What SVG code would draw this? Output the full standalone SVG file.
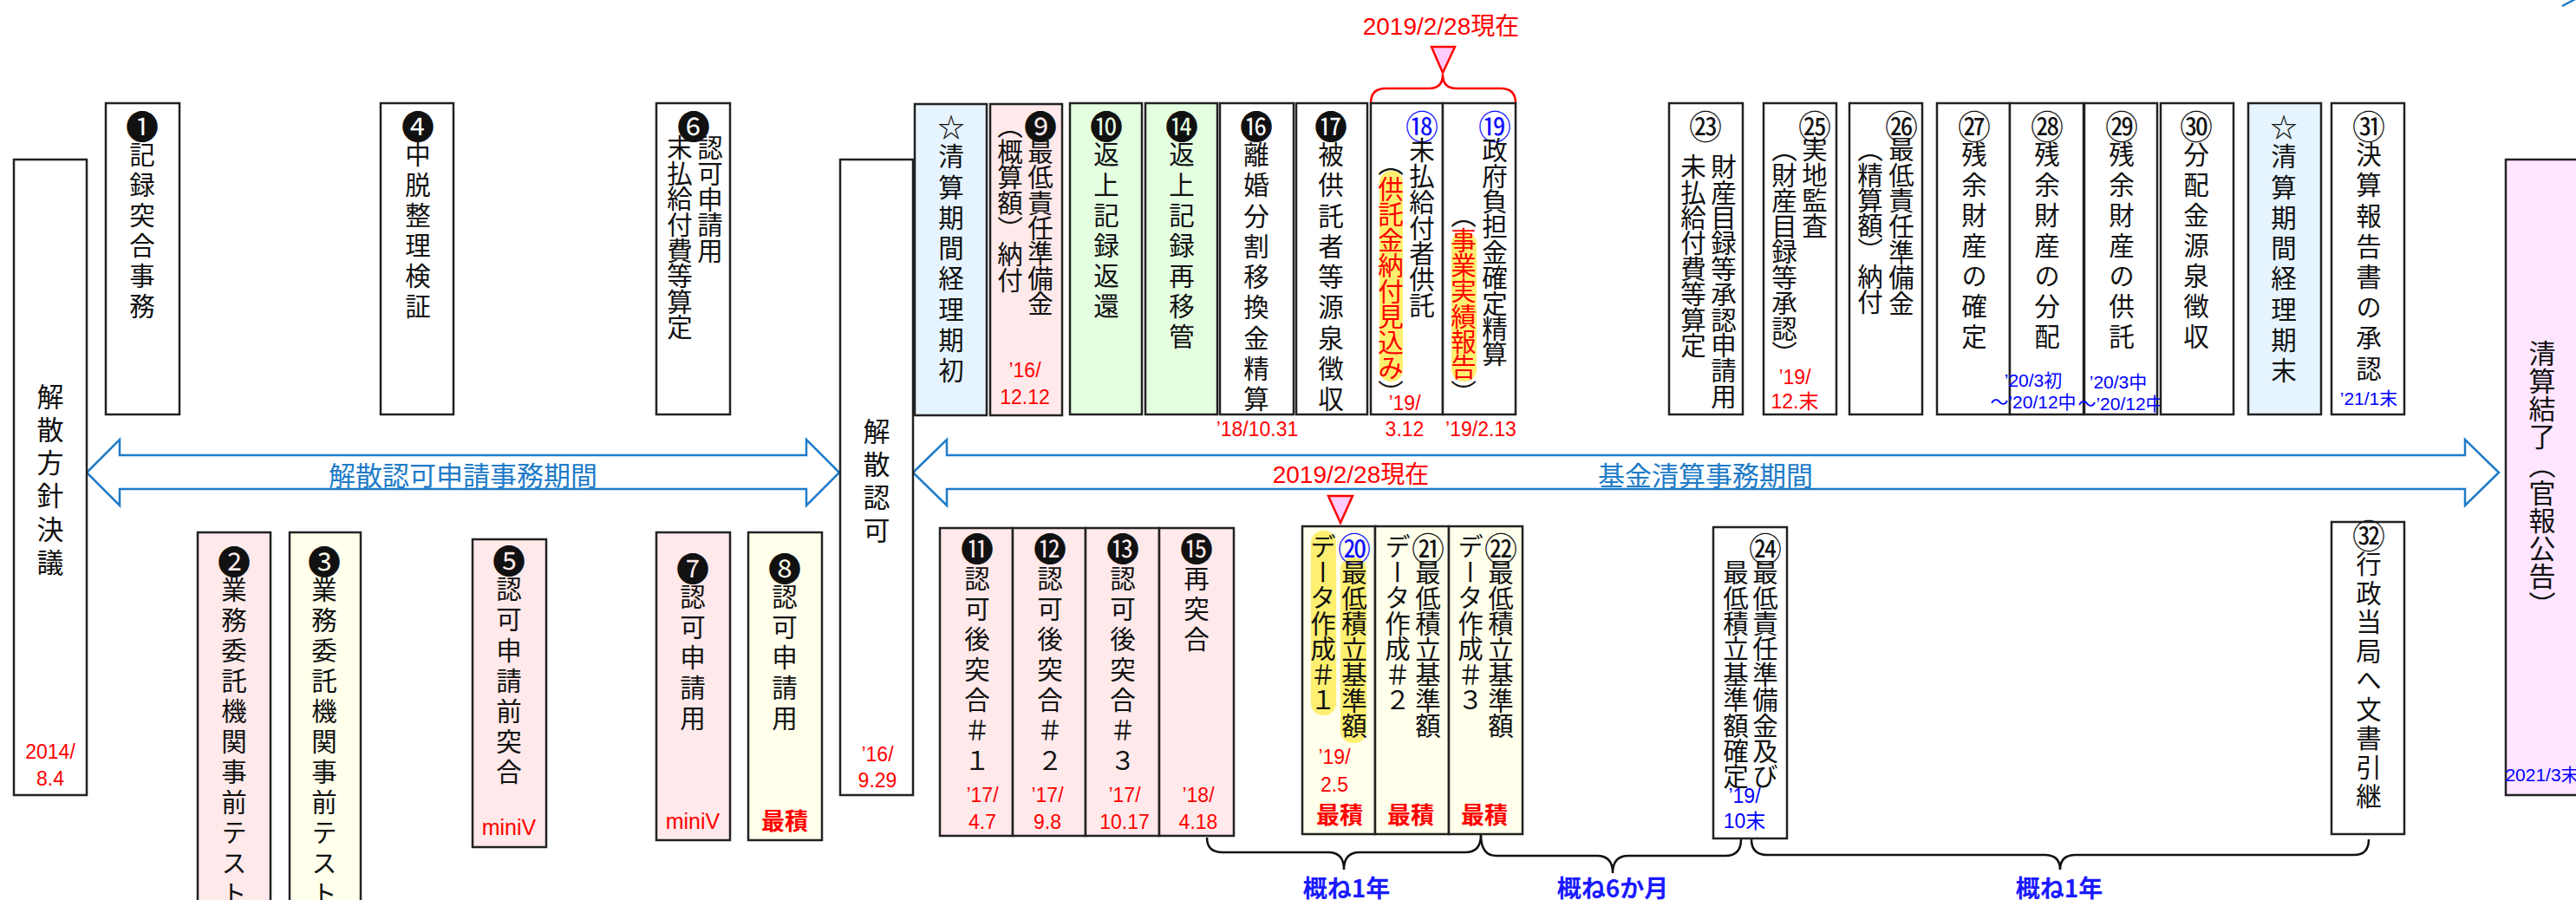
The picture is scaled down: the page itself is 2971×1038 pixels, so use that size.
<svg xmlns="http://www.w3.org/2000/svg" width="2971" height="1038" viewBox="0 0 2971 1038">
<style>
.b{stroke:#222;stroke-width:2.5}
.wh{fill:#fff}.pk{fill:#FFE9EA}.yl{fill:#FFFFEB}.gr{fill:#E3FFE0}.bl{fill:#E6F4FF}.mg{fill:#FFE5FF}
.v{writing-mode:vertical-rl;font-family:"Noto Sans CJK JP",sans-serif;font-size:29.5px;fill:#111}
.vb{writing-mode:vertical-rl;font-family:"Noto Sans CJK JP",sans-serif;font-size:31px;fill:#111}
.n{font-family:"Noto Sans CJK JP",sans-serif;font-size:38px;fill:#111;text-anchor:middle;dominant-baseline:central}
.st{font-family:"Noto Sans CJK JP",sans-serif;font-size:31px;fill:#111;text-anchor:middle;dominant-baseline:central}
.nb{fill:#1010FF}
.d{font-family:"Liberation Sans","Noto Sans CJK JP",sans-serif;font-size:23px;fill:#FF0000;text-anchor:middle}
.db{font-family:"Liberation Sans","Noto Sans CJK JP",sans-serif;font-size:21px;fill:#0000FF;text-anchor:middle}
.mv{font-family:"Liberation Sans",sans-serif;font-size:25px;fill:#FF0000;text-anchor:middle}
.sk{font-family:"Noto Sans CJK JP",sans-serif;font-size:27px;font-weight:bold;fill:#FF0000;text-anchor:middle}
.hl{fill:#FFEF70}
.red{fill:#FF0000}
.arr{fill:#fff;stroke:#1E7BC8;stroke-width:2.5}
.al{font-family:"Noto Sans CJK JP",sans-serif;font-size:31px;fill:#1E7BC8;text-anchor:middle}
.now{font-family:"Liberation Sans","Noto Sans CJK JP",sans-serif;font-size:28px;fill:#FF0000;text-anchor:middle}
.br{fill:none;stroke:#111;stroke-width:2.5}
.gl{font-family:"Noto Sans CJK JP",sans-serif;font-size:28px;font-weight:bold;fill:#1A1AFF;text-anchor:middle}
</style>

<g id="connectors">
  <polygon class="arr" points="100,545 138,507 138,525 930,525 930,507 968,545 930,583 930,564 138,564 138,583"/>
  <text class="al" x="534" y="560">解散認可申請事務期間</text>
  <polygon class="arr" points="1053,545 1092,507 1092,525 2843,525 2843,507 2882,545 2843,583 2843,564 1092,564 1092,583"/>
  <text class="al" x="1967" y="560">基金清算事務期間</text>
  <text class="now" x="1558" y="557">2019/2/28現在</text>
  <polygon points="1532,572 1560,572 1546,603" fill="#FFCCFF" stroke="#FF0000" stroke-width="2.5"/>
  <text class="now" x="1662" y="40">2019/2/28現在</text>
  <polygon points="1651,54 1678,54 1664,84" fill="#FFCCFF" stroke="#FF0000" stroke-width="2.5"/>
  <path d="M1581,119 Q1581,102 1598,102 L1648,102 Q1664,102 1664,86 Q1664,102 1680,102 L1731,102 Q1748,102 1748,119" fill="none" stroke="#FF0000" stroke-width="2.5"/>
  <path class="br" d="M1392,966 Q1392,983 1410,983 L1532,983 Q1550,983 1550,1003 Q1550,983 1568,983 L1690,983 Q1708,983 1708,963"/>
  <path class="br" d="M1708,963 Q1708,987 1726,987 L1842,987 Q1860,987 1860,1007 Q1860,987 1878,987 L1990,987 Q2008,987 2008,968"/>
  <path class="br" d="M2020,968 Q2020,986 2038,986 L2358,986 Q2376,986 2376,1003 Q2376,986 2394,986 L2715,986 Q2732,986 2732,968"/>
  <text class="gl" x="1553" y="1035">概ね1年</text>
  <text class="gl" x="1860" y="1035">概ね6か月</text>
  <text class="gl" x="2375" y="1035">概ね1年</text>
  <line x1="2955" y1="7" x2="2972" y2="-2" stroke="#1E7BC8" stroke-width="2.5"/>
</g>

<g id="start">
  <rect class="b wh" x="16" y="184" width="84" height="733"/>
  <text class="vb" x="58" y="441.5" style="letter-spacing:7.2px">解散方針決議</text>
  <text class="d" x="58" y="875">2014/</text>
  <text class="d" x="58" y="906">8.4</text>
</g>
<g id="n1">
  <rect class="b wh" x="122" y="119" width="85" height="359"/>
  <text class="n" x="164" y="143">❶</text>
  <text class="v" x="164" y="163.25" style="letter-spacing:5.5px">記録突合事務</text>
</g>
<g id="n4">
  <rect class="b wh" x="439" y="119" width="84" height="359"/>
  <text class="n" x="482" y="143">❹</text>
  <text class="v" x="482" y="163.25" style="letter-spacing:5.5px">中脱整理検証</text>
</g>
<g id="n6">
  <rect class="b wh" x="757" y="119" width="85" height="359"/>
  <text class="n" x="800" y="143">❻</text>
  <text class="v" x="819" y="155.25" style="letter-spacing:0.2px">認可申請用</text>
  <text class="v" x="784" y="155.25" style="letter-spacing:0.1px">末払給付費等算定</text>
</g>
<g id="approve">
  <rect class="b wh" x="969" y="184" width="84" height="733"/>
  <text class="vb" x="1011" y="481.5" style="letter-spacing:7px">解散認可</text>
  <text class="d" x="1012" y="878">’16/</text>
  <text class="d" x="1012" y="908">9.29</text>
</g>
<g id="star1">
  <rect class="b bl" x="1055" y="120" width="83" height="359"/>
  <text class="st" x="1097" y="144">☆</text>
  <text class="v" x="1097" y="165.25" style="letter-spacing:5.8px">清算期間経理期初</text>
</g>
<g id="n9">
  <rect class="b pk" x="1142" y="120" width="83" height="359"/>
  <text class="n" x="1200" y="143">❾</text>
  <text class="v" x="1200" y="160.25" style="letter-spacing:-0.3px">最低責任準備金</text>
  <text class="v" x="1165" y="130.25" style="letter-spacing:0.1px">（概算額）納付</text>
  <text class="d" x="1182" y="435">’16/</text>
  <text class="d" x="1182" y="466">12.12</text>
</g>
<g id="n10">
  <rect class="b gr" x="1234" y="119" width="83" height="359"/>
  <text class="n" x="1276" y="143">❿</text>
  <text class="v" x="1276" y="163.25" style="letter-spacing:5.5px">返上記録返還</text>
</g>
<g id="n14">
  <rect class="b gr" x="1321" y="119" width="83" height="359"/>
  <text class="n" x="1363" y="143">⓮</text>
  <text class="v" x="1363" y="163.25" style="letter-spacing:5.5px">返上記録再移管</text>
</g>
<g id="n16">
  <rect class="b wh" x="1407" y="119" width="85" height="359"/>
  <text class="n" x="1449" y="143">⓰</text>
  <text class="v" x="1449" y="163.25" style="letter-spacing:5.75px">離婚分割移換金精算</text>
  <text class="d" x="1450" y="503">’18/10.31</text>
</g>
<g id="n17">
  <rect class="b wh" x="1495" y="119" width="82" height="359"/>
  <text class="n" x="1535" y="143">⓱</text>
  <text class="v" x="1535" y="163.25" style="letter-spacing:5.75px">被供託者等源泉徴収</text>
</g>
<g id="n18">
  <rect class="b wh" x="1581" y="119" width="83" height="359"/>
  <rect class="hl" x="1591" y="197" width="27" height="243" rx="13"/>
  <text class="n nb" x="1640" y="143">⑱</text>
  <text class="v" x="1640" y="158.25" style="letter-spacing:0.3px">未払給付者供託</text>
  <text class="v" x="1604" y="172.75" style="letter-spacing:0px">（<tspan class="red">供託金納付見込み</tspan>）</text>
  <text class="d" x="1620" y="473">’19/</text>
  <text class="d" x="1620" y="503">3.12</text>
</g>
<g id="n19">
  <rect class="b wh" x="1664" y="119" width="84" height="359"/>
  <rect class="hl" x="1674" y="267" width="29" height="173" rx="14"/>
  <text class="n nb" x="1724" y="143">⑲</text>
  <text class="v" x="1724" y="158.25" style="letter-spacing:-0.1px">政府負担金確定精算</text>
  <text class="v" x="1688" y="232.75" style="letter-spacing:-0.2px">（<tspan class="red">事業実績報告</tspan>）</text>
  <text class="d" x="1708" y="503">’19/2.13</text>
</g>
<g id="n23">
  <rect class="b wh" x="1925" y="119" width="85" height="359"/>
  <text class="n" x="1967" y="143">㉓</text>
  <text class="v" x="1988" y="177.25" style="letter-spacing:-0.1px">財産目録等承認申請用</text>
  <text class="v" x="1953" y="177.25" style="letter-spacing:-0.1px">未払給付費等算定</text>
</g>
<g id="n25">
  <rect class="b wh" x="2034" y="119" width="84" height="359"/>
  <text class="n" x="2093" y="143">㉕</text>
  <text class="v" x="2093" y="157.25" style="letter-spacing:-0.2px">実地監査</text>
  <text class="v" x="2058" y="157.25" style="letter-spacing:0px">（財産目録等承認）</text>
  <text class="d" x="2070" y="443">’19/</text>
  <text class="d" x="2070" y="471">12.末</text>
</g>
<g id="n26">
  <rect class="b wh" x="2133" y="119" width="84" height="359"/>
  <text class="n" x="2193" y="143">㉖</text>
  <text class="v" x="2193" y="157.25" style="letter-spacing:0.1px">最低責任準備金</text>
  <text class="v" x="2157" y="157.25" style="letter-spacing:-0.2px">（精算額）納付</text>
</g>
<g id="n27">
  <rect class="b wh" x="2234" y="119" width="84" height="359"/>
  <text class="n" x="2277" y="143">㉗</text>
  <text class="v" x="2277" y="163.25" style="letter-spacing:5.5px">残余財産の確定</text>
</g>
<g id="n28">
  <rect class="b wh" x="2318" y="119" width="85" height="359"/>
  <text class="n" x="2361" y="143">㉘</text>
  <text class="v" x="2361" y="163.25" style="letter-spacing:5.5px">残余財産の分配</text>
  <text class="db" x="2345" y="445.5">’20/3初</text>
  <text class="db" x="2345" y="470.5">～’20/12中</text>
</g>
<g id="n29">
  <rect class="b wh" x="2404" y="119" width="84" height="359"/>
  <text class="n" x="2447" y="143">㉙</text>
  <text class="v" x="2447" y="163.25" style="letter-spacing:5.5px">残余財産の供託</text>
  <text class="db" x="2443" y="447.5">’20/3中</text>
  <text class="db" x="2446" y="472.5">～’20/12中</text>
</g>
<g id="n30">
  <rect class="b wh" x="2492" y="119" width="84" height="359"/>
  <text class="n" x="2533" y="143">㉚</text>
  <text class="v" x="2533" y="163.25" style="letter-spacing:5.5px">分配金源泉徴収</text>
</g>
<g id="star2">
  <rect class="b bl" x="2593" y="119" width="84" height="359"/>
  <text class="st" x="2634" y="144">☆</text>
  <text class="v" x="2634" y="165.25" style="letter-spacing:5.8px">清算期間経理期末</text>
</g>
<g id="n31">
  <rect class="b wh" x="2689" y="119" width="84" height="359"/>
  <text class="n" x="2732" y="143">㉛</text>
  <text class="v" x="2732" y="163.25" style="letter-spacing:5.7px">決算報告書の承認</text>
  <text class="db" x="2732" y="466.5">’21/1末</text>
</g>
<g id="end">
  <rect class="b mg" x="2890" y="184" width="90" height="733"/>
  <text class="vb" x="2932" y="391.5" style="letter-spacing:1.2px">清算結了（官報公告）</text>
  <text class="db" x="2932" y="900.5">2021/3末</text>
</g>

<g id="n2">
  <rect class="b pk" x="228" y="614" width="84" height="440"/>
  <text class="n" x="270" y="645">❷</text>
  <text class="v" x="270" y="665.25" style="letter-spacing:5.5px">業務委託機関事前テスト</text>
</g>
<g id="n3">
  <rect class="b yl" x="334" y="614" width="82" height="440"/>
  <text class="n" x="374" y="645">❸</text>
  <text class="v" x="374" y="665.25" style="letter-spacing:5.5px">業務委託機関事前テスト</text>
</g>
<g id="n5">
  <rect class="b pk" x="545" y="622" width="85" height="355"/>
  <text class="n" x="587" y="644">❺</text>
  <text class="v" x="587" y="664.25" style="letter-spacing:5.7px">認可申請前突合</text>
  <text class="mv" x="587" y="963">miniV</text>
</g>
<g id="n7">
  <rect class="b pk" x="757" y="614" width="85" height="355"/>
  <text class="n" x="799" y="653">❼</text>
  <text class="v" x="799" y="673.25" style="letter-spacing:5.5px">認可申請用</text>
  <text class="mv" x="799" y="956">miniV</text>
</g>
<g id="n8">
  <rect class="b yl" x="863" y="614" width="85" height="355"/>
  <text class="n" x="905" y="653">❽</text>
  <text class="v" x="905" y="673.25" style="letter-spacing:5.5px">認可申請用</text>
  <text class="sk" x="905" y="957">最積</text>
</g>
<g id="n11">
  <rect class="b pk" x="1084" y="609" width="84" height="355"/>
  <text class="n" x="1127" y="630">⓫</text>
  <text class="v" x="1127" y="652.25" style="letter-spacing:5.5px">認可後突合＃１</text>
  <text class="d" x="1133" y="925">’17/</text>
  <text class="d" x="1133" y="956">4.7</text>
</g>
<g id="n12">
  <rect class="b pk" x="1168" y="609" width="84" height="355"/>
  <text class="n" x="1211" y="630">⓬</text>
  <text class="v" x="1211" y="652.25" style="letter-spacing:5.5px">認可後突合＃２</text>
  <text class="d" x="1208" y="925">’17/</text>
  <text class="d" x="1208" y="956">9.8</text>
</g>
<g id="n13">
  <rect class="b pk" x="1252" y="609" width="85" height="355"/>
  <text class="n" x="1295" y="630">⓭</text>
  <text class="v" x="1295" y="652.25" style="letter-spacing:5.5px">認可後突合＃３</text>
  <text class="d" x="1297" y="925">’17/</text>
  <text class="d" x="1297" y="956">10.17</text>
</g>
<g id="n15">
  <rect class="b pk" x="1337" y="609" width="86" height="355"/>
  <text class="n" x="1380" y="630">⓯</text>
  <text class="v" x="1380" y="652.25" style="letter-spacing:5.5px">再突合</text>
  <text class="d" x="1382" y="925">’18/</text>
  <text class="d" x="1382" y="956">4.18</text>
</g>
<g id="n20">
  <rect class="b yl" x="1502" y="607" width="84" height="355"/>
  <rect class="hl" x="1546" y="643" width="30" height="214" rx="14"/>
  <rect class="hl" x="1512" y="612" width="29" height="213" rx="14"/>
  <text class="n nb" x="1562" y="630">⑳</text>
  <text class="v" x="1562" y="645.25">最低積立基準額</text>
  <text class="v" x="1526" y="615.25">データ作成＃１</text>
  <text class="d" x="1539" y="881">’19/</text>
  <text class="d" x="1539" y="913">2.5</text>
  <text class="sk" x="1545" y="950">最積</text>
</g>
<g id="n21">
  <rect class="b yl" x="1586" y="607" width="85" height="355"/>
  <text class="n" x="1647" y="630">㉑</text>
  <text class="v" x="1647" y="645.25">最低積立基準額</text>
  <text class="v" x="1612" y="615.25">データ作成＃２</text>
  <text class="sk" x="1627" y="950">最積</text>
</g>
<g id="n22">
  <rect class="b yl" x="1671" y="607" width="85" height="355"/>
  <text class="n" x="1731" y="630">㉒</text>
  <text class="v" x="1731" y="645.25">最低積立基準額</text>
  <text class="v" x="1696" y="615.25">データ作成＃３</text>
  <text class="sk" x="1712" y="950">最積</text>
</g>
<g id="n24">
  <rect class="b wh" x="1976" y="608" width="85" height="359"/>
  <text class="n" x="2036" y="630">㉔</text>
  <text class="v" x="2036" y="645.25" style="letter-spacing:-0.1px">最低責任準備金及び</text>
  <text class="v" x="2002" y="645.25" style="letter-spacing:-0.1px">最低積立基準額確定</text>
  <text class="db" x="2012" y="926" style="font-size:23px">’19/</text>
  <text class="db" x="2012" y="955" style="font-size:23px">10末</text>
</g>
<g id="n32">
  <rect class="b wh" x="2689" y="602" width="84" height="360"/>
  <text class="n" x="2732" y="615">㉜</text>
  <text class="v" x="2732" y="635.25" style="letter-spacing:4px">行政当局へ文書引継</text>
</g>
</svg>
